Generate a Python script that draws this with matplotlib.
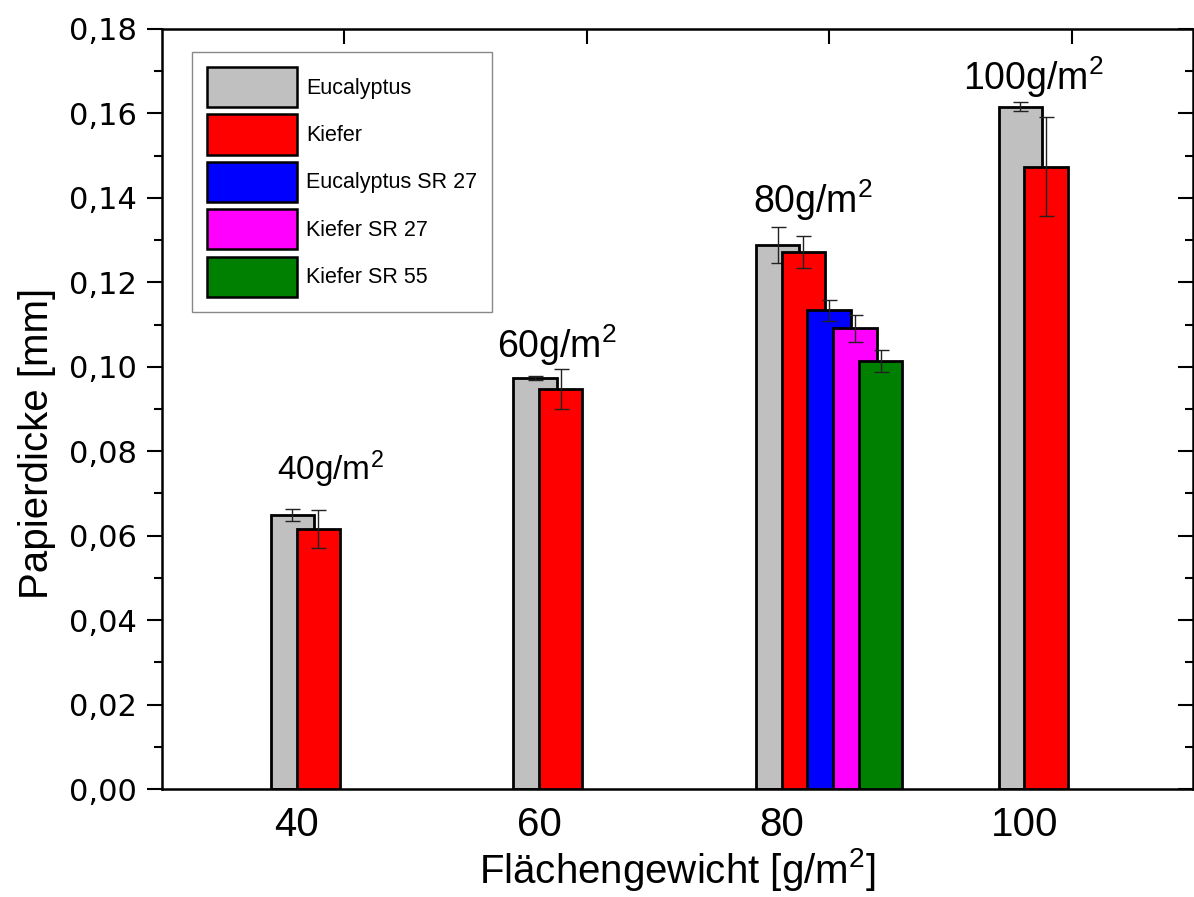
import matplotlib
matplotlib.use("Agg")
import matplotlib.pyplot as plt
from matplotlib.ticker import FuncFormatter, MultipleLocator
from matplotlib.patches import Patch

plt.rcParams['font.family'] = ['Liberation Sans', 'DejaVu Sans']
plt.rcParams['mathtext.fontset'] = 'custom'
plt.rcParams['mathtext.rm'] = 'Liberation Sans'
plt.rcParams['mathtext.it'] = 'Liberation Sans'
plt.rcParams['mathtext.default'] = 'regular'

# ---- data ----
categories = [40, 60, 80, 100]
series = ["Eucalyptus", "Kiefer", "Eucalyptus SR 27", "Kiefer SR 27", "Kiefer SR 55"]
colors = ["#C0C0C0", "#FF0000", "#0000FF", "#FF00FF", "#008000"]
eucalyptus     = [0.0649, 0.0973, 0.1288, 0.1616]
eucalyptus_err = [0.0015, 0.0005, 0.0043, 0.0011]
kiefer         = [0.0616, 0.0947, 0.1272, 0.1474]
kiefer_err     = [0.0045, 0.0047, 0.0038, 0.0117]
euc_sr27       = [None, None, 0.1134, None]
euc_sr27_err   = [None, None, 0.0025, None]
kief_sr27      = [None, None, 0.1091, None]
kief_sr27_err  = [None, None, 0.0032, None]
kief_sr55      = [None, None, 0.1013, None]
kief_sr55_err  = [None, None, 0.0026, None]
values = [eucalyptus, kiefer, euc_sr27, kief_sr27, kief_sr55]
errors = [eucalyptus_err, kiefer_err, euc_sr27_err, kief_sr27_err, kief_sr55_err]
tick_labels = ["40", "60", "80", "100"]
annotations = ["40g/m$^2$", "60g/m$^2$", "80g/m$^2$", "100g/m$^2$"]
annot_pos = [(34.5, 0.0732), (52.6, 0.1020), (73.7, 0.1364), (91.0, 0.1656)]
annot_size = [24, 27, 27, 27]

fig = plt.figure(figsize=(11.94, 8.97), dpi=100)
ax = fig.add_axes([162/1194, 1-789/897, (1193-162)/1194, (789-29)/897])

step = 2.123
width = 3.57
for i, (vals, errs) in enumerate(zip(values, errors)):
    xs, ys, es = [], [], []
    for c, v, e in zip(categories, vals, errs):
        if v is not None:
            xs.append(c + (i - 2) * step)
            ys.append(v)
            es.append(e)
    ax.bar(xs, ys, width=width, color=colors[i], edgecolor='black',
           linewidth=2.0, zorder=2 + 2 * i)
    ax.errorbar(xs, ys, yerr=es, fmt='none', ecolor='#222222', elinewidth=1.0,
                capsize=5.4, capthick=1.0, zorder=3 + 2 * i)

for txt, (x, y), fs in zip(annotations, annot_pos, annot_size):
    ax.text(x, y, txt, fontsize=fs, ha='left', va='baseline', zorder=20)

ax.set_xlim(25, 110)
ax.set_ylim(0, 0.18)

ax.set_xticks([c - 3.9 for c in categories])
ax.set_xticklabels(tick_labels, fontsize=29)
ax.tick_params(axis='x', which='both', bottom=True, top=False, length=0, pad=12)

# top ticks (inward, at group centres)
secx = ax.secondary_xaxis('top')
secx.set_xticks(categories)
secx.set_xticklabels([])
secx.tick_params(direction='in', length=11, width=1.5)
secx.spines['top'].set_visible(False)

ax.yaxis.set_major_locator(MultipleLocator(0.02))
ax.yaxis.set_minor_locator(MultipleLocator(0.01))
ax.yaxis.set_major_formatter(FuncFormatter(lambda v, p: f"{v:.2f}".replace('.', ',')))
ax.tick_params(axis='y', which='major', direction='out', length=11, width=1.5,
               labelsize=22, right=True, pad=7)
ax.tick_params(axis='y', which='minor', direction='out', length=6, width=1.5, right=True)
for lab in ax.get_yticklabels():
    lab.set_family('DejaVu Sans')

for s in ax.spines.values():
    s.set_linewidth(1.8)

# right ticks inward
for t in ax.yaxis.get_major_ticks():
    t.tick2line.set_marker(matplotlib.lines.TICKLEFT)
for t in ax.yaxis.get_minor_ticks():
    t.tick2line.set_marker(matplotlib.lines.TICKLEFT)

ax.set_xlabel("Flächengewicht [g/m$^2$]", fontsize=29, labelpad=2)
ax.set_ylabel("Papierdicke [mm]", fontsize=29)
ax.yaxis.set_label_coords(-0.103, 0.455)

handles = [Patch(facecolor=c, edgecolor='black', linewidth=1.8) for c in colors]
leg = ax.legend(handles, series, loc='upper left', bbox_to_anchor=(30/1031, 1-23/760),
                fontsize=15.5, handlelength=4.2, handleheight=2.5, labelspacing=0.33,
                handletextpad=0.4, borderpad=0.7, borderaxespad=0, frameon=True,
                fancybox=False, edgecolor='#888888', framealpha=1)
leg.get_frame().set_linewidth(1.0)
leg.set_zorder(30)

fig.savefig("out.png", dpi=100)
